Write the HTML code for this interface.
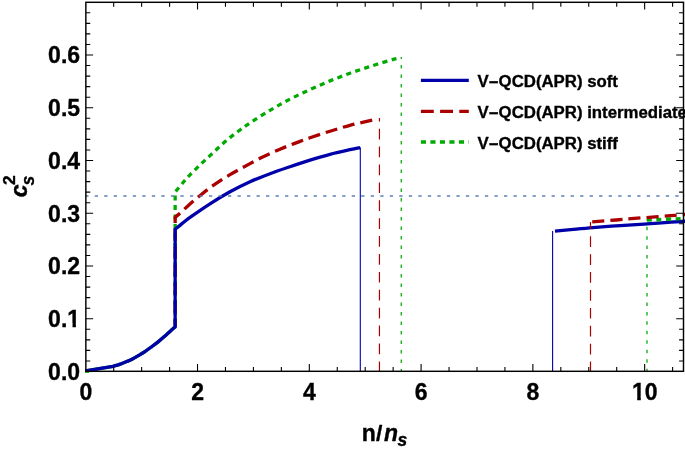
<!DOCTYPE html>
<html><head><meta charset="utf-8"><title>plot</title>
<style>html,body{margin:0;padding:0;background:#fff;overflow:hidden}svg{display:block}</style>
</head><body>
<svg width="685" height="450" viewBox="0 0 685 450">
<rect width="685" height="450" fill="#fff"/>
<defs><clipPath id="cp"><rect x="84.85" y="2.30" width="600.15" height="369.60"/></clipPath></defs>
<g clip-path="url(#cp)" fill="none" stroke-linejoin="miter" stroke-linecap="butt">
<path d="M401.25 57 V371.3" stroke="#00aa00" stroke-width="1.25" stroke-dasharray="3.5 6.0" stroke-dashoffset="1.5"/>
<path d="M379.45 118 V371.3" stroke="#aa0000" stroke-width="1.2" stroke-dasharray="10.7 7.2" stroke-dashoffset="7.2"/>
<path d="M360.3 147.6 V371.3" stroke="#0000aa" stroke-width="1.1"/>
<path d="M85.50 370.90 L113.00 366.30 C114.10 365.98 117.32 365.18 119.60 364.40 C121.88 363.62 124.63 362.47 126.70 361.60 C128.77 360.73 130.03 360.22 132.00 359.20 C133.97 358.18 136.35 356.77 138.50 355.50 C140.65 354.23 142.77 353.02 144.90 351.60 C147.03 350.18 149.05 348.67 151.30 347.00 C153.55 345.33 156.02 343.53 158.40 341.60 C160.78 339.67 163.22 337.48 165.60 335.40 C167.98 333.32 171.11 330.50 172.70 329.10 C174.29 327.70 174.74 327.35 175.15 327.00" stroke="#00aa00" stroke-width="3.3"/>
<path id="gup" d="M175.15 327.00 L175.15 191.80 C175.54 191.37 176.11 190.83 177.50 189.20 C178.89 187.57 181.42 184.40 183.50 182.00 C185.58 179.60 187.25 177.65 190.00 174.80 C192.75 171.95 196.67 168.10 200.00 164.90 C203.33 161.70 206.67 158.70 210.00 155.60 C213.33 152.50 216.67 149.30 220.00 146.30 C223.33 143.30 226.67 140.32 230.00 137.60 C233.33 134.88 236.67 132.43 240.00 130.00 C243.33 127.57 245.00 126.28 250.00 123.00 C255.00 119.72 263.33 114.28 270.00 110.30 C276.67 106.32 283.33 102.55 290.00 99.10 C296.67 95.65 303.33 92.63 310.00 89.60 C316.67 86.57 323.33 83.63 330.00 80.90 C336.67 78.17 343.33 75.60 350.00 73.20 C356.67 70.80 363.33 68.65 370.00 66.50 C376.67 64.35 384.97 61.77 390.00 60.30 C395.03 58.83 398.50 58.13 400.20 57.70" stroke="#00aa00" stroke-width="3.3" stroke-dasharray="5.1 4.41" stroke-dashoffset="6.66"/>
<path id="rup" d="M175.15 327.00 L175.15 217.30 C175.96 216.63 177.53 215.53 180.00 213.30 C182.47 211.07 186.67 206.85 190.00 203.90 C193.33 200.95 196.67 198.30 200.00 195.60 C203.33 192.90 206.67 190.17 210.00 187.70 C213.33 185.23 216.67 182.97 220.00 180.80 C223.33 178.63 226.67 176.65 230.00 174.70 C233.33 172.75 236.67 170.95 240.00 169.10 C243.33 167.25 246.67 165.40 250.00 163.60 C253.33 161.80 256.67 159.97 260.00 158.30 C263.33 156.63 266.67 155.12 270.00 153.60 C273.33 152.08 276.67 150.62 280.00 149.20 C283.33 147.78 286.67 146.40 290.00 145.10 C293.33 143.80 296.67 142.62 300.00 141.40 C303.33 140.18 305.00 139.50 310.00 137.80 C315.00 136.10 323.33 133.28 330.00 131.20 C336.67 129.12 343.33 127.07 350.00 125.30 C356.67 123.53 365.42 121.66 370.00 120.60 C374.58 119.54 376.25 119.22 377.50 118.95" stroke="#aa0000" stroke-width="3.3" stroke-dasharray="12.1 5.9" stroke-dashoffset="3.9"/>
<path d="M85.50 370.90 L113.00 366.30 C114.10 365.98 117.32 365.18 119.60 364.40 C121.88 363.62 124.63 362.47 126.70 361.60 C128.77 360.73 130.03 360.22 132.00 359.20 C133.97 358.18 136.35 356.77 138.50 355.50 C140.65 354.23 142.77 353.02 144.90 351.60 C147.03 350.18 149.05 348.67 151.30 347.00 C153.55 345.33 156.02 343.53 158.40 341.60 C160.78 339.67 163.22 337.48 165.60 335.40 C167.98 333.32 171.11 330.50 172.70 329.10 C174.29 327.70 174.74 327.35 175.15 327.00 L175.15 229.30 C176.29 228.35 179.53 225.58 182.00 223.60 C184.47 221.62 185.33 220.70 190.00 217.40 C194.67 214.10 203.33 208.07 210.00 203.80 C216.67 199.53 223.33 195.48 230.00 191.80 C236.67 188.12 243.33 184.72 250.00 181.70 C256.67 178.68 263.33 176.20 270.00 173.70 C276.67 171.20 283.33 168.97 290.00 166.70 C296.67 164.43 303.33 162.17 310.00 160.10 C316.67 158.03 323.33 156.03 330.00 154.30 C336.67 152.57 344.95 150.82 350.00 149.70 C355.05 148.58 358.58 147.95 360.30 147.60" stroke="#0000aa" stroke-width="3.3"/>
<path d="M555.00 231.20 C558.57 230.85 569.57 229.75 576.40 229.10 C583.23 228.45 588.70 227.88 596.00 227.30 C603.30 226.72 612.20 226.13 620.20 225.60 C628.20 225.07 637.65 224.52 644.00 224.10 C650.35 223.68 651.30 223.58 658.30 223.10 C665.30 222.62 681.38 221.52 686.00 221.20" stroke="#0000aa" stroke-width="3.3"/>
<path d="M552.6 230.9 V371.3" stroke="#0000aa" stroke-width="1.1"/>
<path d="M647.0 219.6 V371.3" stroke="#00aa00" stroke-width="1.25" stroke-dasharray="3.5 5.97" stroke-dashoffset="2.4"/>
<path d="M647.00 220.20 C653.50 219.88 679.50 218.62 686.00 218.30" stroke="#00aa00" stroke-width="3.3" stroke-dasharray="5.0 4.5"/>
<path d="M592.20 221.80 C596.17 221.50 609.03 220.57 616.00 220.00 C622.97 219.43 628.00 218.87 634.00 218.40 C640.00 217.93 646.00 217.65 652.00 217.20 C658.00 216.75 664.33 216.17 670.00 215.70 C675.67 215.23 683.33 214.62 686.00 214.40" stroke="#aa0000" stroke-width="3.3" stroke-dasharray="12.1 6.05"/>
<path d="M590.5 222.1 V371.3" stroke="#aa0000" stroke-width="1.2" stroke-dasharray="10.7 7.2" stroke-dashoffset="3.7"/>
<path d="M85.2 196.0 H686" stroke="#5e81b5" stroke-width="1.35" stroke-dasharray="3.3 6.218"/>
</g>
<path d="M85 372.2 H89" stroke="#00aa00" stroke-width="1.4" fill="none"/>
<g stroke="#000" stroke-width="1.1" fill="none" stroke-linecap="butt">
<rect x="85.85" y="2.3" width="597.65" height="369.00" stroke-width="1.45"/>
<path d="M113.69 371.3 v-4.4 M113.69 2.30 v4.4 M141.64 371.3 v-4.4 M141.64 2.30 v4.4 M169.59 371.3 v-4.4 M169.59 2.30 v4.4 M197.53 371.3 v-7.3 M197.53 2.30 v7.3 M225.47 371.3 v-4.4 M225.47 2.30 v4.4 M253.42 371.3 v-4.4 M253.42 2.30 v4.4 M281.37 371.3 v-4.4 M281.37 2.30 v4.4 M309.31 371.3 v-7.3 M309.31 2.30 v7.3 M337.25 371.3 v-4.4 M337.25 2.30 v4.4 M365.20 371.3 v-4.4 M365.20 2.30 v4.4 M393.14 371.3 v-4.4 M393.14 2.30 v4.4 M421.09 371.3 v-7.3 M421.09 2.30 v7.3 M449.04 371.3 v-4.4 M449.04 2.30 v4.4 M476.98 371.3 v-4.4 M476.98 2.30 v4.4 M504.93 371.3 v-4.4 M504.93 2.30 v4.4 M532.87 371.3 v-7.3 M532.87 2.30 v7.3 M560.82 371.3 v-4.4 M560.82 2.30 v4.4 M588.76 371.3 v-4.4 M588.76 2.30 v4.4 M616.71 371.3 v-4.4 M616.71 2.30 v4.4 M644.65 371.3 v-7.3 M644.65 2.30 v7.3 M672.60 371.3 v-4.4 M672.60 2.30 v4.4 M85.85 360.95 h4.4 M683.5 360.95 h-4.4 M85.85 350.40 h4.4 M683.5 350.40 h-4.4 M85.85 339.85 h4.4 M683.5 339.85 h-4.4 M85.85 329.30 h4.4 M683.5 329.30 h-4.4 M85.85 318.75 h7.3 M683.5 318.75 h-7.3 M85.85 308.20 h4.4 M683.5 308.20 h-4.4 M85.85 297.65 h4.4 M683.5 297.65 h-4.4 M85.85 287.10 h4.4 M683.5 287.10 h-4.4 M85.85 276.55 h4.4 M683.5 276.55 h-4.4 M85.85 266.00 h7.3 M683.5 266.00 h-7.3 M85.85 255.45 h4.4 M683.5 255.45 h-4.4 M85.85 244.90 h4.4 M683.5 244.90 h-4.4 M85.85 234.35 h4.4 M683.5 234.35 h-4.4 M85.85 223.80 h4.4 M683.5 223.80 h-4.4 M85.85 213.25 h7.3 M683.5 213.25 h-7.3 M85.85 202.70 h4.4 M683.5 202.70 h-4.4 M85.85 192.15 h4.4 M683.5 192.15 h-4.4 M85.85 181.60 h4.4 M683.5 181.60 h-4.4 M85.85 171.05 h4.4 M683.5 171.05 h-4.4 M85.85 160.50 h7.3 M683.5 160.50 h-7.3 M85.85 149.95 h4.4 M683.5 149.95 h-4.4 M85.85 139.40 h4.4 M683.5 139.40 h-4.4 M85.85 128.85 h4.4 M683.5 128.85 h-4.4 M85.85 118.30 h4.4 M683.5 118.30 h-4.4 M85.85 107.75 h7.3 M683.5 107.75 h-7.3 M85.85 97.20 h4.4 M683.5 97.20 h-4.4 M85.85 86.65 h4.4 M683.5 86.65 h-4.4 M85.85 76.10 h4.4 M683.5 76.10 h-4.4 M85.85 65.55 h4.4 M683.5 65.55 h-4.4 M85.85 55.00 h7.3 M683.5 55.00 h-7.3 M85.85 44.45 h4.4 M683.5 44.45 h-4.4 M85.85 33.90 h4.4 M683.5 33.90 h-4.4 M85.85 23.35 h4.4 M683.5 23.35 h-4.4 M85.85 12.80 h4.4 M683.5 12.80 h-4.4 "/>
</g>
<g font-family="Liberation Sans, Arial, Helvetica, sans-serif" font-weight="bold" fill="#000" stroke="#000" stroke-width="0.35" stroke-linejoin="round" font-size="23">
<clipPath id="c01"><path clip-rule="evenodd" d="M0 290 H85 V340 H0 Z M67 323.2 H72.55 V329 H67 Z M75.9 323.2 H81 V329 H75.9 Z"/></clipPath>
<clipPath id="c10"><path clip-rule="evenodd" d="M620 375 H670 V410 H620 Z M632 396.2 H637.2 V402 H632 Z M640.75 396.2 H645.2 V402 H640.75 Z"/></clipPath>
<text x="86.00" y="400.4" text-anchor="middle">0</text>
<text x="197.74" y="400.4" text-anchor="middle">2</text>
<text x="309.48" y="400.4" text-anchor="middle">4</text>
<text x="421.22" y="400.4" text-anchor="middle">6</text>
<text x="532.96" y="400.4" text-anchor="middle">8</text>
<text x="644.70" y="400.4" text-anchor="middle" clip-path="url(#c10)">10</text>
<text x="80.1" y="379.70" text-anchor="end">0.0</text>
<text x="80.1" y="326.97" text-anchor="end" clip-path="url(#c01)">0.1</text>
<text x="80.1" y="274.24" text-anchor="end">0.2</text>
<text x="80.1" y="221.51" text-anchor="end">0.3</text>
<text x="80.1" y="168.78" text-anchor="end">0.4</text>
<text x="80.1" y="116.05" text-anchor="end">0.5</text>
<text x="80.1" y="63.32" text-anchor="end">0.6</text>
</g>
<g fill="none" stroke-width="3.3">
<path d="M420.9 80.35 H468.8" stroke="#0000aa"/>
<path d="M420.9 111.3 H468.8" stroke="#aa0000" stroke-dasharray="12.9 6.3"/>
<path d="M420.9 142.0 H468.8" stroke="#00aa00" stroke-dasharray="5.1 4.4"/>
</g>
<g font-family="Liberation Sans, Arial, Helvetica, sans-serif" font-weight="bold" fill="#000" stroke="#000" stroke-width="0.35" stroke-linejoin="round" font-size="16.8">
<text x="477.6" y="86.9">V<tspan dy="1.1">−</tspan><tspan dy="-1.1">QCD(APR) soft</tspan></text>
<text x="477.6" y="118.0">V<tspan dy="1.1">−</tspan><tspan dy="-1.1">QCD(APR) intermediate</tspan></text>
<text x="477.6" y="148.8">V<tspan dy="1.1">−</tspan><tspan dy="-1.1">QCD(APR) stiff</tspan></text>
</g>
<g font-family="Liberation Sans, Arial, Helvetica, sans-serif" font-weight="bold" fill="#000" stroke="#000" stroke-width="0.35" stroke-linejoin="round">
<text y="441" font-size="23"><tspan x="361.7">n</tspan><tspan x="384.1" font-style="italic">n</tspan><tspan x="397.5" font-style="italic" font-size="17.5" dy="4.5">s</tspan></text>
<text transform="translate(376.0 441) scale(1 0.937)" font-size="23">/</text>
<text transform="translate(26.5 197.2) rotate(-90)" font-size="23" font-style="italic">c</text>
<text transform="translate(15.4 185.1) rotate(-90)" font-size="17.4" font-style="normal">2</text>
<text transform="translate(33.5 185.5) rotate(-90)" font-size="17.6" font-style="italic">s</text>
</g>
</svg>
</body></html>
